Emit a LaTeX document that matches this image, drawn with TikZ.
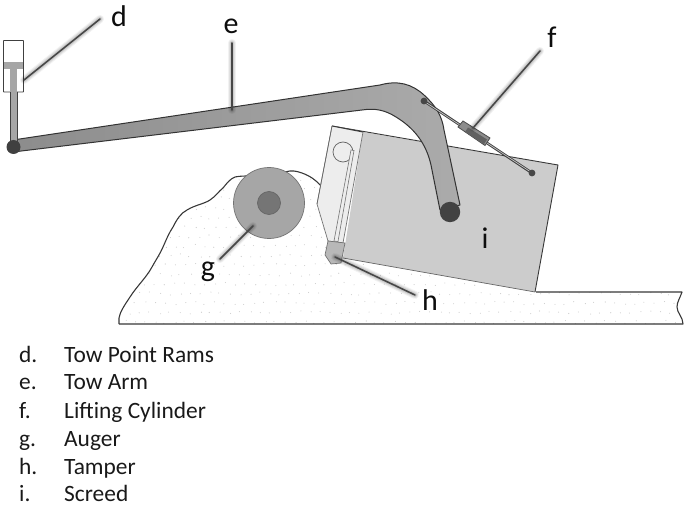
\documentclass[tikz,border=0pt]{standalone}
\usepackage{fontspec}
\setmainfont{Carlito}
\tikzset{
  x=1pt,y=-1pt,
  outline/.style={draw=black!78,line width=1.1pt,line join=round},
  thinedge/.style={draw=black!60,line width=.7pt,line join=round},
  leader/.style={draw=black!72,line width=1.5pt,line cap=round},
  tag/.style={font=\fontsize{30}{31}\selectfont,text=black!95,inner sep=0pt},
  item/.style={font=\fontsize{23.4}{24}\selectfont,text=black!90,inner sep=0pt,anchor=base west},
}
\newcommand{\softshadow}[2]{%
  \foreach \w/\o in {8/.05,6/.07,4/.09,2/.12}{
    \draw[black,opacity=\o,line width=\w pt,line cap=round,shift={(3,3)}] (#1) -- (#2);
  }}
\begin{document}
\begin{tikzpicture}
\useasboundingbox (0,0) rectangle (685,505);
% pile fill and dots
\def\pilepath{(119,324) -- (119,318) .. controls (120,312) and (124,306) .. (130,297)
  .. controls (137,286) and (146,278) .. (152,267)
  .. controls (157,258) and (160,254) .. (163,247)
  .. controls (167,238) and (169,233) .. (173,227)
  .. controls (177,219) and (181,213) .. (187,210)
  .. controls (195,205) and (204,204) .. (210,200)
  .. controls (216,196) and (219,191) .. (223,188)
  .. controls (227,183) and (230,179) .. (235,177)
  .. controls (240,176) and (244,176) .. (250,176)
  -- (285,172) .. controls (292,170) and (296,171) .. (302,173)
  .. controls (310,176) and (316,180) .. (321,186)}
\begin{scope}
  \clip \pilepath -- (336,258) -- (536,292) -- (682,292)
     .. controls (680,298) and (677,302) .. (677,307)
     .. controls (677,313) and (683,317) .. (683,324) -- cycle;
  \pgfmathsetseed{7}
  \foreach \i in {0,...,57}{
    \foreach \j in {0,...,16}{
      \pgfmathsetmacro{\dx}{115+\i*10+mod(\j,2)*5+rand*1.6}
      \pgfmathsetmacro{\dy}{170+\j*9.5+rand*1.6}
      \fill[black!20] (\dx,\dy) circle[radius=.55];
    }
  }
\end{scope}
\draw[outline] \pilepath;
\draw[outline] (536,292) -- (682,292)
     .. controls (680,298) and (677,302) .. (677,307)
     .. controls (677,313) and (683,317) .. (683,324) -- (119,324);
% screed
\path[fill=black!20] (363,132) -- (558,165) -- (535,292) -- (343,258) -- cycle;
\draw[outline,line width=.9pt] (332,126) -- (558,165) -- (535,292);
\draw[thinedge] (535,292) -- (343,258);
% light side box
\path[fill=black!7,draw=black!55,line width=.7pt] (363,132) -- (343,243) -- (328,241) -- (317,204) -- (332,126);
\draw[outline,line width=1pt] (332,126) -- (363,132);
\draw[thinedge,line width=.6pt] (317,204) -- (332,126);
\draw[black!62,line width=.7pt] (343,152) circle[radius=10];
\draw[fill=black!7,draw=black!55,line width=.6pt] (351,150) -- (354,150.5) -- (338,241.5) -- (334,241) -- cycle;
% tamper
\path[fill=black!28,draw=black!55,line width=.7pt] (328,241) -- (345,243) -- (341,263) -- (331,264) -- (325,255) -- cycle;
% auger
\path[fill=black!35,draw=black!55,line width=.7pt] (269,203) coordinate (augerc) circle[radius=35.5];
\path[fill=black!54,draw=black!60,line width=.7pt] (269,203) circle[radius=11.5];
% tow arm
\path[left color=black!45,right color=black!33,draw=black!80,line width=1pt,line join=round]
  (13,140) -- (380,85) .. controls (398,80) and (412,84) .. (424,95)
  .. controls (436,106) and (442,116) .. (444,130)
  -- (460,205) -- (440,210) -- (431,165)
  .. controls (426,143) and (414,128) .. (396,117)
  .. controls (385,110) and (375,108) .. (362,110)
  -- (13,152) -- cycle;
\fill[black!74] (450,212) circle[radius=10.2];
% lifting cylinder
\draw[black!78,line width=2.6pt] (424,101) -- (532,173);
\draw[black!25,line width=.8pt] (426,102.5) -- (530,171.5);
\path[fill=black!45,draw=black!70,line width=.8pt] (458,127) -- (463,121) -- (490,138) -- (485,145.5) -- cycle;
\path[fill=black!62] (468,127.5) -- (487,139.5) -- (484,144) -- (465,132) -- cycle;
\fill[black!72] (424,101) circle[radius=3.4];
\fill[black!72] (532,173) circle[radius=3.4];
% tow point ram
\path[fill=white,draw=black!75,line width=.9pt,rounded corners=.6pt] (3.5,40.5) rectangle (23.5,92);
\fill[black!35] (4,62) rectangle (23,69);
\fill[black!35] (10,69) rectangle (17,147);
\draw[black!75,line width=.9pt] (10,92) -- (10,145) (17,92) -- (17,145);
\fill[black!75] (13.5,147) circle[radius=7];
% labels
\node[tag] (d) at (119,16) {d};
\node[tag] (e) at (231,26) {e};
\node[tag] (f) at (552,37) {f};
\node[tag] (g) at (208,272) {g};
\node[tag] (h) at (430,300) {h};
\node[tag] (i) at (485,238) {i};
% leaders
\coordinate (ds) at (100,19); \coordinate (dt) at (24,80);
\coordinate (es) at (232,43); \coordinate (et) at (232,110);
\coordinate (fs) at (540,51); \coordinate (ft) at (473,128);
\coordinate (gs) at (220,259); \coordinate (gt) at (253,226);
\coordinate (hs) at (415,295); \coordinate (ht) at (335,257);
\softshadow{ds}{dt}
\softshadow{es}{et}
\softshadow{fs}{ft}
\softshadow{gs}{gt}
\softshadow{hs}{ht}
\draw[leader] (ds) -- (dt);
\draw[leader] (es) -- (et);
\draw[leader] (fs) -- (ft);
\draw[leader] (gs) -- (gt);
\draw[leader] (hs) -- (ht);
% list
\foreach \nm/\k/\t/\yy in {ld/d./Tow Point Rams/362,le/e./Tow Arm/389.5,lf/f./Lifting Cylinder/418,lg/g./Auger/446,lh/h./Tamper/474,li/i./Screed/501.5}{
  \node[item] (\nm k) at (19,\yy) {\k};
  \node[item] (\nm t) at (64,\yy) {\t};
}
\end{tikzpicture}
\end{document}
